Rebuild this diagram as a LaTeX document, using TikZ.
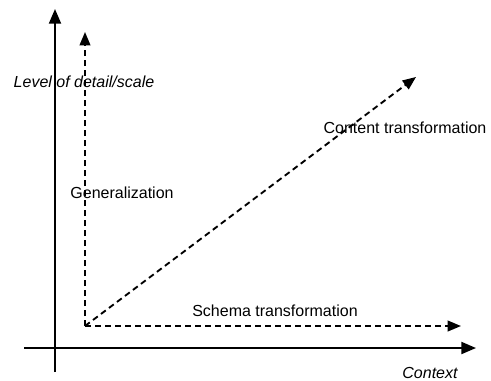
\documentclass[tikz,border=0pt]{standalone}
\usepackage{fontspec}
\setmainfont{Liberation Sans}
\usetikzlibrary{arrows.meta}
\tikzstyle{axis} = [line width=1.5pt,-{Triangle[length=11pt,width=9pt]}]
\tikzstyle{trans} = [line width=1.4pt,dash pattern=on 4.5pt off 3pt,-{Triangle[length=10pt,width=8pt]}]
\tikzstyle{lbl} = [inner sep=0pt,font=\fontsize{12}{14}\selectfont]

\begin{document}
\begin{tikzpicture}[x=0.75pt,y=-0.75pt]
\useasboundingbox (0,0) rectangle (491,380);

% axes
\coordinate (xs) at (24,348);
\coordinate (xe) at (476,348);
\coordinate (ys) at (55,372);
\coordinate (ye) at (55,9);
\draw [axis] (xs) -- (xe);
\draw [axis] (ys) -- (ye);

% transformations
\coordinate (o) at (85,326);
\coordinate (gen) at (85,32);
\coordinate (cont) at (416,77);
\coordinate (sch) at (461,326);
\draw [trans] (o) -- (gen);
\draw [trans] (o) -- (cont);
\draw [trans] (o) -- (sch);

\node (lod) [lbl,font=\fontsize{12}{14}\selectfont\itshape] at (84,82) {Level of detail/scale};
\node (genlbl) [lbl] at (122,193) {Generalization};
\node (contlbl) [lbl] at (405,128) {Content transformation};
\node (schlbl) [lbl] at (275,311) {Schema transformation};
\node (ctx) [lbl,font=\fontsize{12}{14}\selectfont\itshape] at (430,373) {Context};

\end{tikzpicture}
\end{document}
